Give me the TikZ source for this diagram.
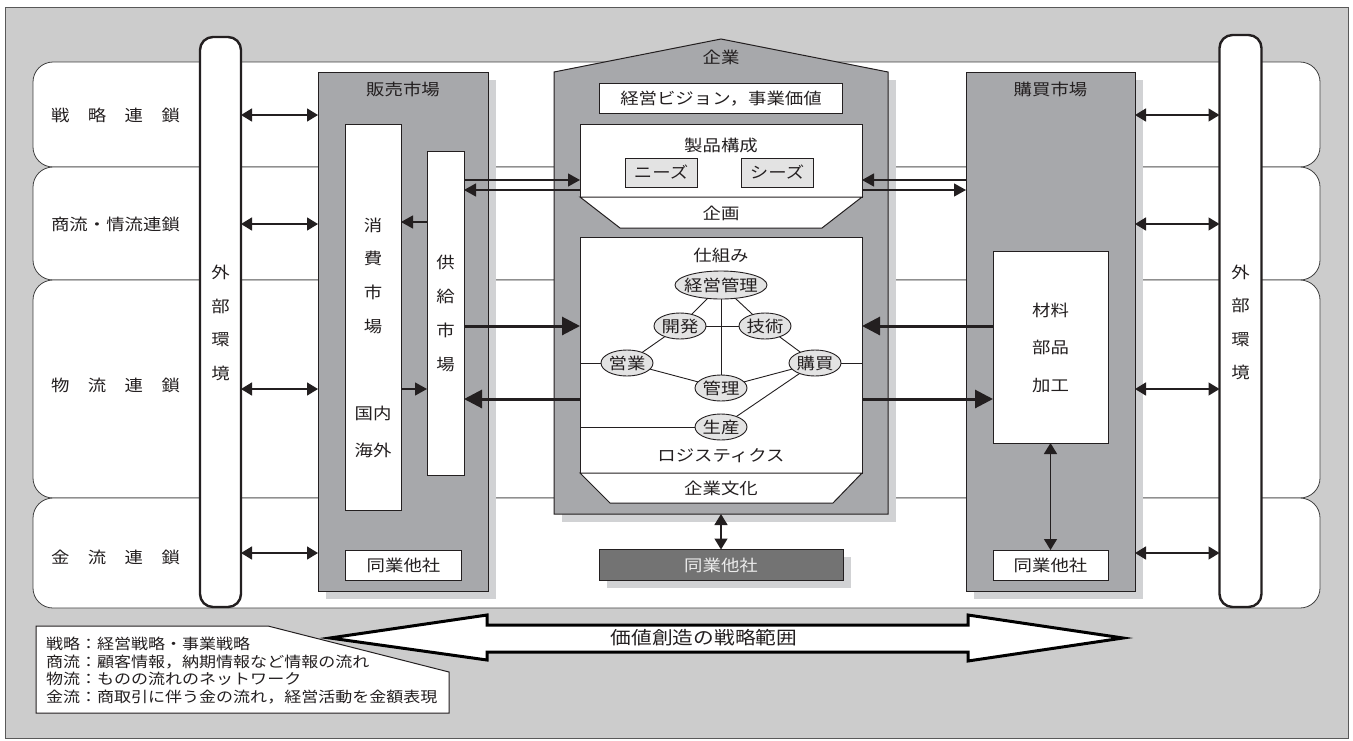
\documentclass[tikz,border=0pt]{standalone}
\usepackage{fontspec}
\setmainfont{Noto Sans CJK JP}[FakeStretch=1.15]
\usetikzlibrary{arrows.meta,shapes.geometric}
\definecolor{bggray}{HTML}{CCCCCC}
\definecolor{boxgray}{HTML}{A7A8AB}
\definecolor{shgray}{HTML}{D1D2D4}
\definecolor{lgray}{HTML}{E3E3E3}
\definecolor{dgray}{HTML}{737373}
\definecolor{ink}{HTML}{231F20}
\newcommand\lblfont{\fontsize{16}{19}\selectfont}
\newcommand\legfont{\fontsize{14.8}{17.7}\selectfont}
\newcommand\bigfont{\fontsize{18}{20}\selectfont}
\newcommand\ctr[1]{\makebox[0pt]{#1}}
\begin{document}
\begin{tikzpicture}[x=1pt,y=-1pt,
  every node/.style={inner sep=0pt, outer sep=0pt, text=ink, font=\lblfont},
  band/.style={draw=black!75, line width=0.8pt, fill=white, rounded corners=20pt},
  pill/.style={draw=ink, line width=2.4pt, fill=white, rounded corners=13pt},
  mkt/.style={draw=ink, line width=1pt, fill=boxgray},
  wbox/.style={draw=ink, line width=1pt, fill=white},
  gbox/.style={draw=ink, line width=1pt, fill=lgray},
  shadowbox/.style={fill=shgray, draw=none},
  ell/.style={ellipse, draw=ink, line width=0.9pt, fill=lgray},
  lnk/.style={draw=ink, line width=0.9pt},
  dbl/.style={draw=ink, line width=1.4pt, {Triangle[length=11pt,width=13pt]}-{Triangle[length=11pt,width=13pt]}},
  arrA/.style={draw=ink, line width=1.2pt, -{Triangle[length=12pt,width=13pt]}},
  arrB/.style={draw=ink, line width=3pt, -{Triangle[length=18pt,width=18pt]}},
]
\useasboundingbox (0,0) rectangle (1353,740);
% frame
\draw[fill=bggray, draw=black!65, line width=1pt] (5,7) rectangle (1348,738);
% bands
\node[band, minimum width=1287pt, minimum height=105pt] (b1) at (676.5,114.5) {};
\node[band, minimum width=1287pt, minimum height=113pt] (b2) at (676.5,223.5) {};
\node[band, minimum width=1287pt, minimum height=218pt] (b3) at (676.5,389) {};
\node[band, minimum width=1287pt, minimum height=110pt] (b4) at (676.5,553) {};
\node (t1) at (115.5,115) {\makebox[129pt][s]{戦\hfill 略\hfill 連\hfill 鎖}};
\node (t2) at (115.5,224) {\makebox[129pt][s]{商\hfill 流\hfill ・\hfill 情\hfill 流\hfill 連\hfill 鎖}};
\node (t3) at (115.5,385) {\makebox[129pt][s]{物\hfill 流\hfill 連\hfill 鎖}};
\node (t4) at (115.5,557) {\makebox[129pt][s]{金\hfill 流\hfill 連\hfill 鎖}};
% shadows
\fill[shgray] (326,80) rectangle (496,599);
\fill[shgray] (974,80) rectangle (1143,599);
\fill[shgray] (562,80) rectangle (896,522);
\fill[shgray] (607,557) rectangle (851,588);
% pills
\node[pill, minimum width=41pt, minimum height=570pt] (lpill) at (220.5,322) {};
\node[pill, minimum width=42pt, minimum height=572pt] (rpill) at (1240.5,321) {};
\node[align=center, font=\fontsize{16}{33.5}\selectfont] (lpt) at (220.5,323) {外\\部\\環\\境};
\node[align=center, font=\fontsize{16}{33.5}\selectfont] (rpt) at (1240.5,322.5) {外\\部\\環\\境};
% sales market
\node[mkt, minimum width=170pt, minimum height=519pt] (hanbai) at (403,331.5) {};
\node (hanbaiL) at (403,89) {販売市場};
\node[wbox, minimum width=56pt, minimum height=386pt] (shohi) at (373,317) {};
\node[align=center, font=\fontsize{16}{33.7}\selectfont] (shohiT) at (373,275.5) {消\\費\\市\\場};
\node (kokunai) at (373,413) {国内};
\node (kaigai) at (373,450) {海外};
\node[wbox, minimum width=37pt, minimum height=324pt] (kyo) at (445.5,313) {};
\node[align=center, font=\fontsize{16}{33.7}\selectfont] (kyoT) at (445.5,313.5) {供\\給\\市\\場};
\node[wbox, minimum width=116pt, minimum height=30pt] (doum1) at (403.5,565) {同業他社};
% purchase market
\node[mkt, minimum width=169pt, minimum height=519pt] (kobai) at (1050.5,331.5) {};
\node (kobaiL) at (1050.5,89) {購買市場};
\node[wbox, minimum width=115pt, minimum height=192pt] (zairyo) at (1050.5,347) {};
\node[align=center, font=\fontsize{16}{37.5}\selectfont] (zairyoT) at (1050.5,347.5) {材料\\部品\\加工};
\node[wbox, minimum width=115pt, minimum height=30pt] (doum2) at (1050.5,565) {同業他社};
% enterprise
\draw[mkt] (554,72) -- (721,39) -- (888,72) -- (888,514) -- (554,514) -- cycle;
\node[minimum width=334pt, minimum height=442pt] (kigyo) at (721,293) {};
\node (kigyoL) at (721,57) {企業};
\node[wbox, minimum width=243pt, minimum height=30pt] (vision) at (721,98.5) {経営ビジョン，事業価値};
\node[wbox, minimum width=282pt, minimum height=73pt] (seihin) at (721,160.5) {};
\draw[wbox] (seihin.south west) -- (620,228) -- (822,228) -- (seihin.south east) -- cycle;
\node (seihinL) at (721,145) {製品構成};
\node[gbox, minimum width=72pt, minimum height=29pt] (needs) at (661,172.5) {ニーズ};
\node[gbox, minimum width=72pt, minimum height=29pt] (seeds) at (777,172.5) {シーズ};
\node (kikaku) at (721,213) {企画};
\node[wbox, minimum width=282pt, minimum height=236pt] (shikumi) at (721,355) {};
\draw[wbox] (shikumi.south west) -- (610,503) -- (833,503) -- (shikumi.south east) -- cycle;
\node (shikumiL) at (721,255) {仕組み};
\node (logi) at (721,456) {ロジスティクス};
\node (bunka) at (721,488) {企業文化};
% graph
\node[ell, minimum width=92pt, minimum height=28pt] (keiei) at (721,285) {\ctr{経営管理}};
\node[ell, minimum width=52pt, minimum height=26pt] (kaihatsu) at (680,326) {\ctr{開発}};
\node[ell, minimum width=52pt, minimum height=26pt] (gijutsu) at (765,326) {\ctr{技術}};
\node[ell, minimum width=52pt, minimum height=26pt] (eigyo) at (627,363) {\ctr{営業}};
\node[ell, minimum width=52pt, minimum height=26pt] (koubai) at (815,363) {\ctr{購買}};
\node[ell, minimum width=52pt, minimum height=26pt] (kanri) at (721,388) {\ctr{管理}};
\node[ell, minimum width=52pt, minimum height=26pt] (seisan) at (721,427) {\ctr{生産}};
\draw[lnk] (keiei) -- (kaihatsu);
\draw[lnk] (keiei) -- (gijutsu);
\draw[lnk] (keiei.south) -- (kanri.north);
\draw[lnk] (kaihatsu) -- (gijutsu);
\draw[lnk] (kaihatsu) -- (eigyo);
\draw[lnk] (eigyo) -- (kanri);
\draw[lnk] (kanri) -- (koubai);
\draw[lnk] (gijutsu) -- (koubai);
\draw[lnk] (koubai) -- (seisan);
\draw[lnk] (eigyo.west) -- (shikumi.west |- eigyo.west);
\draw[lnk] (koubai.east) -- (shikumi.east |- koubai.east);
\draw[lnk] (seisan.west) -- (shikumi.west |- seisan.west);
% dark peer box
\node[draw=ink, line width=1pt, fill=dgray, text=white!92!black, minimum width=244pt, minimum height=31pt] (doug) at (721,565) {同業他社};
% y levels
\coordinate (y115) at (0,115);
\coordinate (y224) at (0,224);
\coordinate (y389) at (0,389);
\coordinate (y553) at (0,553);
\coordinate (y180) at (0,180);
\coordinate (y190) at (0,190);
\coordinate (y222) at (0,222);
\coordinate (y326) at (0,326);
\coordinate (y399) at (0,399);
% external arrows
\foreach \yy in {y115,y224,y389,y553}{
  \draw[dbl] (lpill.east |- \yy) -- (hanbai.west |- \yy);
  \draw[dbl] (kobai.east |- \yy) -- (rpill.west |- \yy);
}
% internal arrows
\draw[arrA] (kyo.west |- y222) -- (shohi.east |- y222);
\draw[arrA] (shohi.east |- y389) -- (kyo.west |- y389);
\draw[arrA] (kyo.east |- y180) -- (seihin.west |- y180);
\draw[arrA] (seihin.west |- y190) -- (kyo.east |- y190);
\draw[arrA] (kobai.west |- y180) -- (seihin.east |- y180);
\draw[arrA] (seihin.east |- y190) -- (kobai.west |- y190);
\draw[arrB] (kyo.east |- y326) -- (shikumi.west |- y326);
\draw[arrB] (shikumi.west |- y399) -- (kyo.east |- y399);
\draw[arrB] (zairyo.west |- y326) -- (shikumi.east |- y326);
\draw[arrB] (shikumi.east |- y399) -- (zairyo.west |- y399);
\draw[dbl] (kigyo.south) -- (doug.north);
\draw[dbl] (zairyo.south) -- (doum2.north);
% legend
\draw[draw=ink, line width=1pt, fill=white] (36,626) -- (268,626) -- (449,672) -- (449,713) -- (36,713) -- cycle;
\node[anchor=west, align=left, font=\legfont] (legend) at (46,670.5) {戦略：経営戦略・事業戦略\\商流：顧客情報，納期情報など情報の流れ\\物流：ものの流れのネットワーク\\金流：商取引に伴う金の流れ，経営活動を金額表現};
% big double arrow
\draw[draw=black, line width=3pt, fill=white, line join=miter] (330,638) -- (487,615) -- (487,625) -- (968,625) -- (968,615) -- (1123,638) -- (968,661) -- (968,652) -- (487,652) -- (487,660) -- cycle;
\node[font=\bigfont] (range) at (704,638) {価値創造の戦略範囲};
\end{tikzpicture}
\end{document}
